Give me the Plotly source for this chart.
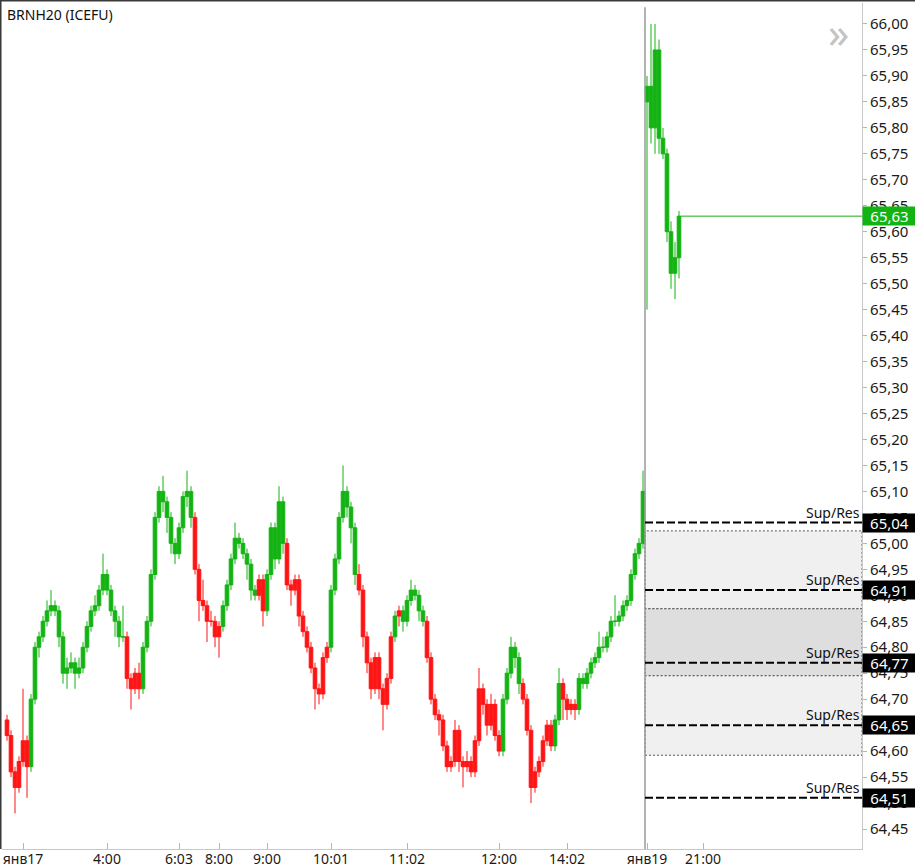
import plotly.graph_objects as go

# ---------------- data ----------------
TITLE = "BRNH20 (ICEFU)"

opens = [
    64.66, 64.63, 64.56, 64.53, 64.58, 64.62, 64.57, 64.70, 64.80, 64.82,
    64.85, 64.87, 64.88, 64.87, 64.82, 64.75, 64.76, 64.77, 64.75, 64.76,
    64.80, 64.84, 64.87, 64.88, 64.91, 64.94, 64.91, 64.87, 64.85, 64.82,
    64.82, 64.74, 64.72, 64.75, 64.72, 64.80, 64.85, 64.94, 65.05, 65.10,
    65.08, 65.05, 65.00, 64.98, 65.03, 65.09, 65.10, 65.05, 64.95, 64.89,
    64.88, 64.85, 64.85, 64.82, 64.84, 64.88, 64.92, 64.97, 65.01, 65.00,
    64.98, 64.96, 64.91, 64.90, 64.93, 64.87, 64.94, 65.03, 64.97, 65.08,
    65.00, 64.92, 64.91, 64.93, 64.86, 64.83, 64.80, 64.76, 64.72, 64.71,
    64.78, 64.80, 64.91, 64.97, 65.05, 65.10, 65.07, 65.03, 64.94, 64.91,
    64.82, 64.77, 64.72, 64.78, 64.72, 64.69, 64.74, 64.82, 64.86, 64.87,
    64.85, 64.89, 64.91, 64.90, 64.87, 64.85, 64.78, 64.70, 64.67, 64.66,
    64.61, 64.57, 64.58, 64.64, 64.58, 64.57, 64.58, 64.56, 64.62, 64.72,
    64.69, 64.65, 64.69, 64.63, 64.60, 64.70, 64.75, 64.80, 64.78, 64.73,
    64.70, 64.64, 64.53, 64.56, 64.58, 64.62, 64.65, 64.61, 64.66, 64.73,
    64.70, 64.68, 64.69, 64.68, 64.74, 64.73, 64.75, 64.77, 64.78, 64.80,
    64.80, 64.82, 64.85, 64.85, 64.86, 64.88, 64.89, 64.94, 64.98, 65.00,
    65.85, 65.88, 65.80, 65.95, 65.78, 65.75, 65.60, 65.52, 65.55,
]
highs = [
    64.67, 64.64, 64.57, 64.59, 64.72, 64.63, 64.71, 64.81, 64.83, 64.86,
    64.89, 64.91, 64.89, 64.88, 64.83, 64.78, 64.79, 64.78, 64.78, 64.81,
    64.85, 64.88, 64.90, 64.92, 64.98, 64.95, 64.92, 64.88, 64.86, 64.88,
    64.83, 64.75, 64.76, 64.77, 64.81, 64.86, 64.95, 65.06, 65.11, 65.13,
    65.09, 65.06, 65.01, 65.04, 65.10, 65.14, 65.11, 65.06, 64.96, 64.93,
    64.89, 64.87, 64.86, 64.85, 64.89, 64.93, 64.98, 65.04, 65.02, 65.01,
    64.99, 64.97, 64.92, 64.94, 64.94, 64.95, 65.04, 65.04, 65.11, 65.09,
    65.01, 64.93, 64.94, 64.94, 64.87, 64.84, 64.81, 64.77, 64.73, 64.79,
    64.81, 64.92, 64.98, 65.06, 65.15, 65.11, 65.08, 65.04, 64.96, 64.92,
    64.83, 64.78, 64.79, 64.79, 64.73, 64.75, 64.83, 64.87, 64.88, 64.88,
    64.90, 64.93, 64.92, 64.91, 64.88, 64.86, 64.79, 64.71, 64.68, 64.67,
    64.62, 64.59, 64.66, 64.65, 64.59, 64.60, 64.59, 64.63, 64.76, 64.73,
    64.70, 64.71, 64.70, 64.64, 64.71, 64.76, 64.82, 64.81, 64.79, 64.74,
    64.71, 64.65, 64.57, 64.59, 64.63, 64.66, 64.66, 64.67, 64.76, 64.74,
    64.71, 64.70, 64.70, 64.75, 64.75, 64.76, 64.78, 64.79, 64.83, 64.82,
    64.83, 64.86, 64.90, 64.87, 64.89, 64.90, 64.95, 64.99, 65.01, 65.14,
    65.90, 66.00, 66.00, 65.97, 65.80, 65.76, 65.62, 65.58, 65.64,
]
lows = [
    64.62, 64.55, 64.48, 64.52, 64.57, 64.51, 64.56, 64.69, 64.78, 64.81,
    64.84, 64.86, 64.86, 64.80, 64.73, 64.72, 64.75, 64.72, 64.74, 64.75,
    64.79, 64.83, 64.86, 64.87, 64.90, 64.90, 64.86, 64.82, 64.80, 64.81,
    64.72, 64.68, 64.71, 64.70, 64.71, 64.79, 64.84, 64.93, 65.04, 65.06,
    65.02, 64.98, 64.96, 64.97, 65.02, 65.07, 65.03, 64.94, 64.85, 64.87,
    64.81, 64.84, 64.80, 64.78, 64.83, 64.87, 64.91, 64.96, 64.99, 64.97,
    64.93, 64.89, 64.89, 64.89, 64.84, 64.86, 64.93, 64.95, 64.96, 64.98,
    64.91, 64.88, 64.90, 64.84, 64.82, 64.79, 64.75, 64.68, 64.69, 64.70,
    64.77, 64.79, 64.90, 64.96, 65.04, 65.05, 65.00, 64.92, 64.90, 64.80,
    64.75, 64.70, 64.71, 64.70, 64.64, 64.68, 64.73, 64.81, 64.84, 64.83,
    64.84, 64.88, 64.89, 64.85, 64.84, 64.77, 64.69, 64.66, 64.63, 64.60,
    64.56, 64.56, 64.57, 64.56, 64.53, 64.56, 64.55, 64.55, 64.61, 64.67,
    64.63, 64.64, 64.62, 64.59, 64.59, 64.69, 64.74, 64.76, 64.71, 64.69,
    64.63, 64.50, 64.52, 64.55, 64.57, 64.61, 64.60, 64.60, 64.65, 64.66,
    64.66, 64.67, 64.66, 64.67, 64.72, 64.72, 64.74, 64.76, 64.77, 64.79,
    64.79, 64.81, 64.84, 64.84, 64.85, 64.87, 64.88, 64.93, 64.97, 64.99,
    65.45, 65.77, 65.75, 65.75, 65.74, 65.58, 65.49, 65.47, 65.51,
]
closes = [
    64.63, 64.56, 64.53, 64.58, 64.62, 64.57, 64.70, 64.80, 64.82, 64.85,
    64.87, 64.88, 64.87, 64.82, 64.75, 64.76, 64.77, 64.75, 64.76, 64.80,
    64.84, 64.87, 64.88, 64.91, 64.94, 64.91, 64.87, 64.85, 64.82, 64.82,
    64.74, 64.72, 64.75, 64.72, 64.80, 64.85, 64.94, 65.05, 65.10, 65.08,
    65.05, 65.00, 64.98, 65.03, 65.09, 65.10, 65.05, 64.95, 64.89, 64.88,
    64.85, 64.85, 64.82, 64.84, 64.88, 64.92, 64.97, 65.01, 65.00, 64.98,
    64.96, 64.91, 64.90, 64.93, 64.87, 64.94, 65.03, 64.97, 65.08, 65.00,
    64.92, 64.91, 64.93, 64.86, 64.83, 64.80, 64.76, 64.72, 64.71, 64.78,
    64.80, 64.91, 64.97, 65.05, 65.10, 65.07, 65.03, 64.94, 64.91, 64.82,
    64.77, 64.72, 64.78, 64.72, 64.69, 64.74, 64.82, 64.86, 64.87, 64.85,
    64.89, 64.91, 64.90, 64.87, 64.85, 64.78, 64.70, 64.67, 64.66, 64.61,
    64.57, 64.58, 64.64, 64.58, 64.57, 64.58, 64.56, 64.62, 64.72, 64.69,
    64.65, 64.69, 64.63, 64.60, 64.70, 64.75, 64.80, 64.78, 64.73, 64.70,
    64.64, 64.53, 64.56, 64.58, 64.62, 64.65, 64.61, 64.66, 64.73, 64.70,
    64.68, 64.69, 64.68, 64.74, 64.73, 64.75, 64.77, 64.78, 64.80, 64.80,
    64.82, 64.85, 64.85, 64.86, 64.88, 64.89, 64.94, 64.98, 65.00, 65.10,
    65.88, 65.80, 65.95, 65.78, 65.75, 65.60, 65.52, 65.55, 65.63,
]
# trend colouring of each bar: g = green, r = red
trend = (
    "rrrrrrgggg" "gggggggggg" "gggggggggg" "rrrrgggggg" "gggggggrrr"
    "rrrrgggggg" "gggrrggggg" "rrrrrrrrrr" "rggggggg" "rr" "rrrrrrrgrg"
    "gggggrrrrr" "rrrrrrrrrr" "rrrrgggggr" "rrrrrrrggr" "rrrggggggg"
    "gggggggggg" "ggggggggg"
)
session2_start = 160          # first bar of the 19 Jan session

tick_bars = [4, 25, 43, 53, 65, 81, 100, 123, 140, 160, 174]
tick_labels = ["янв17", "4:00", "6:03", "8:00", "9:00", "10:01", "11:02",
               "12:00", "14:02", "янв19", "21:00"]

sr_levels = [65.04, 64.91, 64.77, 64.65, 64.51]
zone_top = [65.024, 64.874, 64.745]
zone_bottom = [64.874, 64.745, 64.592]
zone_fill = ["#f0f0f0", "#dedede", "#f0f0f0"]

# ---------------- style ----------------
GREEN = "#13b313"
RED = "#ff1414"
FONT = "Noto Sans"
X_RANGE = [-1.25, 213.75]
Y_RANGE = [64.4115, 66.0404]

bars = list(range(len(closes)))
fig = go.Figure()

for key, color in (("g", GREEN), ("r", RED)):
    sel = [i for i in bars if trend[i] == key]
    style = dict(line=dict(color=color, width=1), fillcolor=color)
    fig.add_trace(go.Candlestick(
        x=sel,
        open=[opens[i] for i in sel],
        high=[highs[i] for i in sel],
        low=[lows[i] for i in sel],
        close=[closes[i] for i in sel],
        increasing=style, decreasing=style,
        whiskerwidth=0, showlegend=False, hoverinfo="skip",
    ))

shapes = []
sep_x = session2_start - 0.5
# support/resistance zones
for top, bot, fill in zip(zone_top, zone_bottom, zone_fill):
    shapes.append(dict(type="rect", xref="x", yref="y", x0=sep_x, x1=X_RANGE[1],
                       y0=bot, y1=top, fillcolor=fill, layer="below",
                       line=dict(color="#555555", width=1, dash="2px,2px")))
# session separator
shapes.append(dict(type="line", xref="x", yref="paper", x0=sep_x, x1=sep_x,
                   y0=0, y1=0.995, line=dict(color="#9a9a9a", width=1.5)))
# Sup/Res lines
for lv in sr_levels:
    shapes.append(dict(type="line", xref="x", yref="y", x0=sep_x, x1=X_RANGE[1],
                       y0=lv, y1=lv, line=dict(color="#000000", width=2, dash="8px,3px")))
# last price line
last = closes[-1]
shapes.append(dict(type="line", xref="x", yref="y", x0=bars[-1] + 0.5, x1=X_RANGE[1],
                   y0=last, y1=last, line=dict(color=GREEN, width=1)))
# frame: top and left borders
shapes.append(dict(type="line", xref="paper", yref="paper", x0=-0.003, x1=1.07,
                   y0=1.003, y1=1.003, line=dict(color="#3a3a3a", width=2)))
shapes.append(dict(type="line", xref="paper", yref="paper", x0=-0.0017, x1=-0.0017,
                   y0=0, y1=1.003, line=dict(color="#3a3a3a", width=2)))

def fmt(v):
    return f"{v:.2f}".replace(".", ",")

annotations = [
    dict(text=TITLE, xref="paper", yref="paper", x=0.003, y=1.0,
         xanchor="left", yanchor="top", showarrow=False,
         font=dict(family=FONT, size=14, color="#111111")),
    dict(text="»", xref="paper", yref="paper", x=0.9725, y=0.966,
         xanchor="center", yanchor="middle", showarrow=False,
         font=dict(family=FONT, size=42, color="#c4c4c4")),
    dict(text=fmt(last), xref="paper", yref="y", x=1, y=last, xanchor="left",
         yanchor="middle", showarrow=False, bgcolor=GREEN, width=51, height=16,
         borderpad=1, font=dict(family=FONT, size=15, color="#ffffff")),
]
for lv in sr_levels:
    annotations.append(dict(text="Sup/Res", xref="paper", yref="y", x=1, y=lv,
                            xanchor="right", yanchor="bottom", showarrow=False,
                            yshift=-1, font=dict(family=FONT, size=14, color="#111111")))
    annotations.append(dict(text=fmt(lv), xref="paper", yref="y", x=1, y=lv,
                            xanchor="left", yanchor="middle", showarrow=False,
                            bgcolor="#000000", width=51, height=16, borderpad=1,
                            font=dict(family=FONT, size=15, color="#ffffff")))

fig.update_layout(
    width=915, height=867, autosize=False,
    margin=dict(l=2, r=53, t=3, b=18, autoexpand=False),
    paper_bgcolor="white", plot_bgcolor="white",
    separators=", ",
    boxgap=0.1, boxgroupgap=0,
    shapes=shapes, annotations=annotations,
    showlegend=False,
    xaxis=dict(range=X_RANGE, tickmode="array", tickvals=tick_bars, ticktext=tick_labels,
               ticks="inside", ticklen=6, tickcolor="#b5b5b5", showline=True,
               linecolor="#c8c8c8", linewidth=1, showgrid=False, zeroline=False,
               automargin=False, rangeslider=dict(visible=False),
               ticklabelstandoff=-3,
               tickfont=dict(family=FONT, size=14, color="#1a1a1a")),
    yaxis=dict(range=Y_RANGE, side="right", tick0=64.45, dtick=0.05, tickformat=".2f",
               ticks="outside", ticklen=4, tickcolor="#b5b5b5", showline=True,
               linecolor="#c8c8c8", linewidth=1, showgrid=False, zeroline=False,
               automargin=False,
               tickfont=dict(family=FONT, size=15, color="#1a1a1a")),
)

fig.write_html("out.html", config={"displayModeBar": False},
               post_script="document.body.style.margin='0px';document.body.style.padding='0px';")
